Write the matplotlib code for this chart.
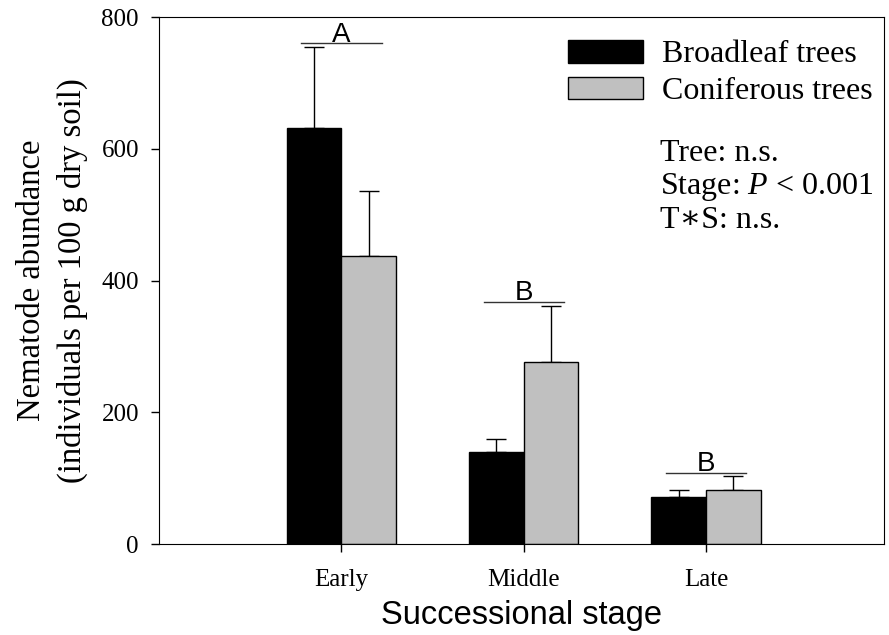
import numpy as np
import matplotlib.pyplot as plt

plt.rcParams['mathtext.fontset'] = 'custom'
plt.rcParams['mathtext.rm'] = 'Liberation Serif'
plt.rcParams['mathtext.it'] = 'Liberation Serif:italic'

stages = ['Early', 'Middle', 'Late']
broadleaf = [631, 140, 71]
broadleaf_err = [124, 19, 12]
conifer = [437, 276, 83]
conifer_err = [99, 86, 20]
letters = ['A', 'B', 'B']
letter_y = [760, 368, 108]

serif = ['Liberation Serif', 'DejaVu Serif']
sans = ['Liberation Sans', 'DejaVu Sans']

fig = plt.figure(figsize=(8.89, 6.35), dpi=100)
ax = fig.add_axes([0.179, 0.143, 0.815, 0.830])

x = np.arange(len(stages))
w = 0.30
ax.bar(x - w / 2, broadleaf, w, color='black', edgecolor='black', lw=1,
       label='Broadleaf trees', zorder=2)
ax.bar(x + w / 2, conifer, w, color='#c0c0c0', edgecolor='black', lw=1,
       label='Coniferous trees', zorder=2)
ax.errorbar(x - w / 2, broadleaf, yerr=[np.zeros(3), broadleaf_err], fmt='none',
            ecolor='black', elinewidth=1, capsize=7, capthick=1, zorder=1)
ax.errorbar(x + w / 2, conifer, yerr=[np.zeros(3), conifer_err], fmt='none',
            ecolor='black', elinewidth=1, capsize=7, capthick=1, zorder=1)

# significance letters
for xi, yl, lt in zip(x, letter_y, letters):
    ax.plot([xi - 0.22, xi + 0.22], [yl, yl], color='#333333', lw=1)
    ax.text(xi, yl + 3, lt, ha='center', va='baseline', fontsize=20, family=sans)

ax.set_xlim(-1.0, 2.975)
ax.set_ylim(0, 800)
ax.set_yticks([0, 200, 400, 600, 800])
ax.set_xticks(x)
ax.set_xticklabels(stages)
ax.tick_params(direction='out', length=5.5, width=1)
ax.tick_params(axis='x', pad=12)
ax.tick_params(axis='y', pad=9)
for lab in ax.get_xticklabels() + ax.get_yticklabels():
    lab.set_family(serif)
    lab.set_fontsize(18)

ax.set_ylabel('Nematode abundance\n(individuals per 100 g dry soil)',
              family=serif, fontsize=23.5, labelpad=10, linespacing=1.38)
ax.set_xlabel('Successional stage', family=sans, fontsize=23.5, labelpad=7)

leg = ax.legend(loc='upper left', bbox_to_anchor=(0.564, 0.957), frameon=False,
                prop={'family': serif, 'size': 23}, handlelength=2.35,
                handleheight=0.72, handletextpad=0.6, labelspacing=0.23,
                borderpad=0, borderaxespad=0)

stats = ['Tree: n.s.', 'Stage: $\\it{P}$ < 0.001', 'T\u2217S: n.s.']
stat_y = [0.727, 0.664, 0.600]
for s, sy in zip(stats, stat_y):
    ax.text(0.691, sy, s, transform=ax.transAxes,
            family=serif, fontsize=23, va='baseline')

fig.savefig('out.png', dpi=100)
